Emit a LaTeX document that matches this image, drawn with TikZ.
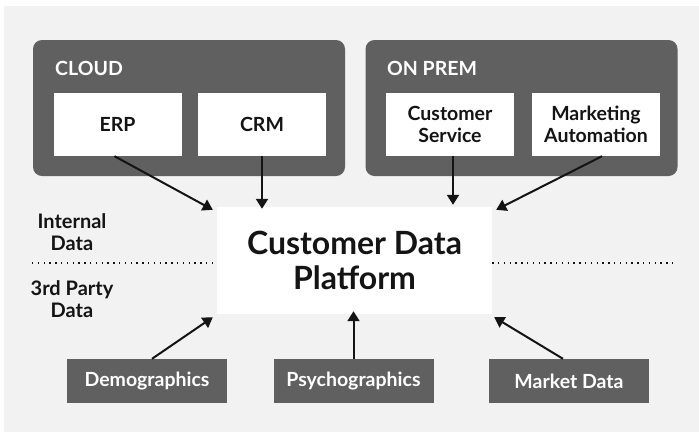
\documentclass[tikz,border=0pt]{standalone}
\usepackage{fontspec}
\setmainfont{Lato}
\usepackage{tikz}
\usetikzlibrary{
  arrows.meta,
  positioning
}
\definecolor{PanelGray}{RGB}{96, 96, 96}
\definecolor{BackGray}{RGB}{242, 242, 242}
\definecolor{InkBlack}{RGB}{20, 20, 20}
\tikzset{
    panel/.style={rectangle, fill=PanelGray, rounded corners=9pt, minimum width=312pt, minimum height=136pt, inner sep=0pt},
    panellabel/.style={anchor=west, inner sep=0pt, text=white, font=\fontsize{19.5}{22}\selectfont\bfseries},
    srcbox/.style={rectangle, fill=white, minimum width=128pt, minimum height=63pt, inner sep=0pt, align=center, text=InkBlack, font=\fontsize{19.5}{21.5}\selectfont\bfseries},
    feedbox/.style={rectangle, fill=PanelGray, minimum width=160pt, minimum height=44pt, inner sep=0pt, text=white, font=\fontsize{19.5}{22}\selectfont\bfseries},
    sidelabel/.style={align=center, inner sep=0pt, text=InkBlack, font=\fontsize{20}{22}\selectfont\bfseries},
    flowarrow/.style={-{Triangle[width=12pt,length=10pt]}, line width=2pt, draw=InkBlack},
    splitline/.style={draw=InkBlack, line width=1.4pt, dash pattern=on 1.4pt off 4.4pt}
}

\begin{document}
\begin{tikzpicture}[x=1pt, y=-1pt]
    \useasboundingbox (0,0) rectangle (699,432);
    \fill[BackGray] (4,6) rectangle (699,432);

    % the two source groups
    \node[panel] (cloud) at (189,108) {};
    \node[panel] (onprem) at (521.5,108) {};
    \node[panellabel] (cloudlabel) at (55,68) {CLOUD};
    \node[panellabel] (onpremlabel) at (387,68) {ON PREM};

    \node[srcbox] (erp) at (117.5,124.5) {ERP};
    \node[srcbox] (crm) at (262,124.5) {CRM};
    \node[srcbox] (service) at (450,124.5) {Customer\\Service};
    \node[srcbox] (marketing) at (596,124.5) {Marketing\\Automation};

    % the platform
    \node[rectangle, fill=white, minimum width=275pt, minimum height=107pt, inner sep=0pt, align=center,
          text=InkBlack, font=\fontsize{32}{35}\selectfont\bfseries] (cdp) at (354.5,260.5) {Customer Data\\Platform};

    % internal / 3rd party split
    \node[sidelabel] (internal) at (72,232) {Internal\\Data};
    \node[sidelabel] (thirdparty) at (72,299) {3rd Party\\Data};
    \coordinate (splitl) at (32,263);
    \coordinate (splitr) at (675,263);
    \draw[splitline] (splitl) -- (splitl -| cdp.west);
    \draw[splitline] (splitr -| cdp.east) -- (splitr);

    % external feeds
    \node[feedbox] (demo) at (147,381) {Demographics};
    \node[feedbox] (psycho) at (353.5,381) {Psychographics};
    \node[feedbox] (market) at (569,381) {Market Data};

    % arrows into the platform
    \draw[flowarrow] ([xshift=-3pt]erp.south) -- ([shift={(-4,3)}]cdp.north west);
    \draw[flowarrow] (crm.south) -- ([yshift=-2pt]crm.south |- cdp.north);
    \draw[flowarrow] ([xshift=3pt]service.south) -- ([shift={(3,-2)}]service.south |- cdp.north);
    \draw[flowarrow] ([xshift=6pt]marketing.south) -- ([shift={(4,3)}]cdp.north east);
    \draw[flowarrow] ([xshift=5pt]demo.north) -- ([shift={(-4,3)}]cdp.south west);
    \draw[flowarrow] (psycho.north) -- ([yshift=3pt]psycho.north |- cdp.south);
    \draw[flowarrow] ([xshift=-6pt]market.north) -- ([shift={(2,3)}]cdp.south east);
\end{tikzpicture}
\end{document}
